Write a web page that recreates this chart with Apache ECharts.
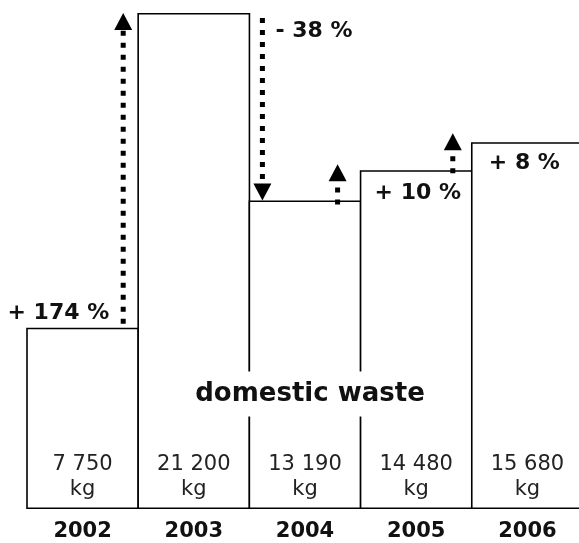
<!DOCTYPE html>
<html>
<head>
<meta charset="utf-8">
<script src="https://cdn.jsdelivr.net/npm/echarts@6/dist/echarts.min.js"></script>
<style>
  html, body { margin: 0; padding: 0; background: #fff; }
  #chart { width: 579px; height: 543px; }
</style>
</head>
<body>
<div id="chart"></div>
<script>
// Yearly domestic waste amounts (kg)
const years = ['2002', '2003', '2004', '2005', '2006'];
const wasteKg = [7750, 21200, 13190, 14480, 15680];
const unit = 'kg';
const caption = 'domestic waste';

const FONT = '"DejaVu Sans", Verdana, sans-serif';

// "7750" -> "7 750"
function groupThousands(v) {
  return String(v).replace(/\B(?=(\d{3})+(?!\d))/g, ' ');
}

// Year-over-year change, rounded to whole percent
function changeText(i) {
  const pct = Math.round((wasteKg[i] - wasteKg[i - 1]) / wasteKg[i - 1] * 100);
  return (pct >= 0 ? '+ ' : '- ') + Math.abs(pct) + ' %';
}

// Placement tweaks for each change arrow (pixels), keyed by the target year index
const arrowLayout = {
  1: { dx: -15, startPad: -4, tipPad: 0,  label: { side: 'left',  dx: -14, dy: -14 } },
  2: { dx: 13,  startPad: 5,  tipPad: 0,  label: { side: 'right', dx: 13,  dy: 18 } },
  3: { dx: -23, startPad: 4,  tipPad: -6, label: { side: 'bar',   dx: 14,  dy: 23 } },
  4: { dx: -19, startPad: 3,  tipPad: -9, label: { side: 'bar',   dx: 17,  dy: 21 } }
};

const arrowData = [];
for (let i = 1; i < wasteKg.length; i++) arrowData.push([i, wasteKg[i - 1], wasteKg[i]]);

const HEAD_W = 18, HEAD_H = 17;

function renderArrow(params, api) {
  const i = api.value(0);
  const from = api.value(1);
  const to = api.value(2);
  const lay = arrowLayout[i];
  const band = api.size([1, 0])[0];
  const boundary = api.coord([i, 0])[0] - band / 2;   // left edge of the target year's bar
  const x = boundary + lay.dx;
  const yFrom = api.coord([i, from])[1];
  const yTo = api.coord([i, to])[1];
  const up = to > from;
  const yStart = yFrom + lay.startPad;
  const yTip = yTo + lay.tipPad;
  const yBase = up ? yTip + HEAD_H : yTip - HEAD_H;

  const children = [
    {
      type: 'line',
      shape: { x1: x, y1: yStart, x2: x, y2: yBase },
      style: { stroke: '#000', lineWidth: 5, lineDash: [5, 7], lineCap: 'butt' }
    },
    {
      type: 'polygon',
      shape: { points: [[x, yTip], [x - HEAD_W / 2, yBase], [x + HEAD_W / 2, yBase]] },
      style: { fill: '#000' }
    }
  ];

  let lx, ly, align;
  if (lay.label.side === 'left') {
    lx = x + lay.label.dx; ly = yFrom + lay.label.dy; align = 'right';
  } else if (lay.label.side === 'right') {
    lx = x + lay.label.dx; ly = yFrom + lay.label.dy; align = 'left';
  } else {
    lx = boundary + lay.label.dx; ly = yTo + lay.label.dy; align = 'left';
  }
  children.push({
    type: 'text',
    style: {
      text: changeText(i),
      x: lx, y: ly,
      align: align, verticalAlign: 'middle',
      fill: '#111',
      font: 'bold 22px ' + FONT
    }
  });
  return { type: 'group', children: children };
}

const chart = echarts.init(document.getElementById('chart'));
chart.setOption({
  backgroundColor: '#fff',
  animation: false,
  grid: { left: 27, right: -4, top: 13, bottom: 34, outerBoundsMode: 'none', containLabel: false },
  xAxis: {
    type: 'category',
    data: years,
    axisLine: { show: false },
    axisTick: { show: false },
    axisLabel: { fontFamily: FONT, fontSize: 21, fontWeight: 'bold', color: '#111', margin: 12 }
  },
  yAxis: {
    type: 'value',
    min: 0,
    max: Math.max.apply(null, wasteKg),
    show: false,
    splitLine: { show: false }
  },
  series: [
    {
      type: 'bar',
      data: wasteKg,
      barWidth: '101.5%',
      itemStyle: { color: '#fff', borderColor: '#000', borderWidth: 1.6 },
      label: {
        show: true,
        position: 'insideBottom',
        distance: 7,
        formatter: p => groupThousands(p.value) + '\n' + unit,
        fontFamily: FONT,
        fontSize: 21,
        lineHeight: 25,
        color: '#222'
      },
      z: 2
    },
    {
      type: 'custom',
      data: arrowData,
      renderItem: renderArrow,
      encode: { x: 0, y: [1, 2] },
      clip: false,
      z: 5
    }
  ],
  graphic: [
    {
      type: 'text',
      z: 100,
      x: 310,
      y: 394,
      style: {
        text: caption,
        align: 'center',
        verticalAlign: 'middle',
        font: 'bold 26px ' + FONT,
        fill: '#111',
        backgroundColor: '#fff',
        padding: [4, 6, 15, 6]
      }
    }
  ]
});
</script>
</body>
</html>
